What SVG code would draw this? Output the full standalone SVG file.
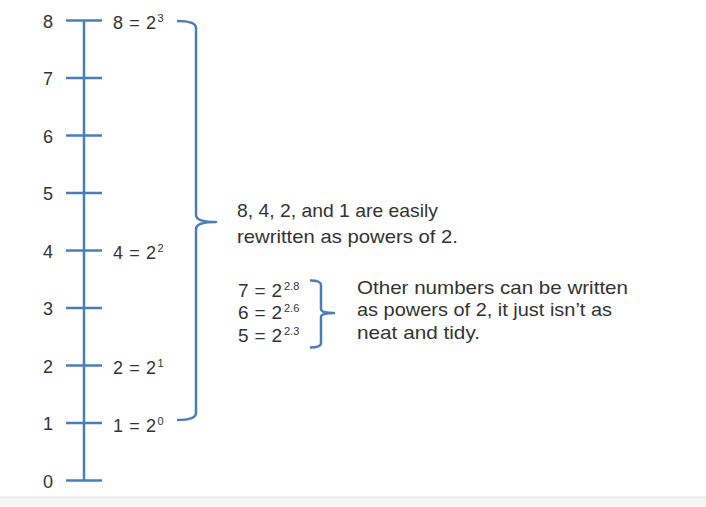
<svg xmlns="http://www.w3.org/2000/svg" width="706" height="507" viewBox="0 0 706 507">
<style>
.ln{stroke:#4a7ebb;stroke-width:2.5;fill:none;stroke-linecap:butt}
.br{stroke:#4a7ebb;stroke-width:2.5;fill:none;stroke-linejoin:round}
text{font-family:"Liberation Sans",Arial,sans-serif;fill:#333333}
.num{font-size:18px;text-anchor:middle}
.lab{font-size:18px}
.sup{font-size:11px}
.big{font-size:19px}
.eq{font-size:19px}
</style>
<rect x="0" y="0" width="706" height="507" fill="#ffffff"/>
<rect x="0" y="497" width="706" height="10" fill="#f6f6f6"/>
<line x1="0" y1="497" x2="706" y2="497" stroke="#e4e4e4" stroke-width="1"/>
<g id="axis">
<line class="ln" x1="84" y1="20.5" x2="84" y2="480.5"/>
<line class="ln" x1="66" y1="20.5" x2="102" y2="20.5"/>
<line class="ln" x1="66" y1="78" x2="102" y2="78"/>
<line class="ln" x1="66" y1="135.5" x2="102" y2="135.5"/>
<line class="ln" x1="66" y1="193" x2="102" y2="193"/>
<line class="ln" x1="66" y1="250.5" x2="102" y2="250.5"/>
<line class="ln" x1="66" y1="308" x2="102" y2="308"/>
<line class="ln" x1="66" y1="365.5" x2="102" y2="365.5"/>
<line class="ln" x1="66" y1="423" x2="102" y2="423"/>
<line class="ln" x1="66" y1="480.5" x2="102" y2="480.5"/>
</g>
<g id="axis-labels">
<text class="num" x="48" y="27.5">8</text>
<text class="num" x="48" y="85">7</text>
<text class="num" x="48" y="142.5">6</text>
<text class="num" x="48" y="200">5</text>
<text class="num" x="48" y="257.5">4</text>
<text class="num" x="48" y="315">3</text>
<text class="num" x="48" y="372.5">2</text>
<text class="num" x="48" y="430">1</text>
<text class="num" x="48" y="487.5">0</text>
</g>
<g id="powers">
<text class="lab" x="113" y="29" textLength="43" lengthAdjust="spacing">8 = 2</text><text class="sup" x="157.5" y="22">3</text>
<text class="lab" x="113" y="258.5" textLength="43" lengthAdjust="spacing">4 = 2</text><text class="sup" x="157.5" y="251.5">2</text>
<text class="lab" x="113" y="374" textLength="43" lengthAdjust="spacing">2 = 2</text><text class="sup" x="157.5" y="367">1</text>
<text class="lab" x="113" y="431.5" textLength="43" lengthAdjust="spacing">1 = 2</text><text class="sup" x="157.5" y="424.5">0</text>
</g>
<g id="connectors">
<path class="br" d="M177,21 Q196,21 196,28 L196,215 Q196,222 216,222 Q196,222 196,229 L196,413 Q196,420 177,420"/>
<path class="br" d="M310,280.5 Q321,280.5 321,285 L321,309 Q321,313 334,313 Q321,313 321,317 L321,343 Q321,347.5 310,347.5"/>
</g>
<g id="note1">
<text class="big" x="237" y="217" textLength="201" lengthAdjust="spacingAndGlyphs">8, 4, 2, and 1 are easily</text>
<text class="big" x="237" y="243" textLength="221" lengthAdjust="spacingAndGlyphs">rewritten as powers of 2.</text>
</g>
<g id="equations">
<text class="eq" x="238" y="296.5" textLength="44" lengthAdjust="spacing">7 = 2</text><text class="sup" x="284" y="289.5">2.8</text>
<text class="eq" x="238" y="319" textLength="44" lengthAdjust="spacing">6 = 2</text><text class="sup" x="284" y="312">2.6</text>
<text class="eq" x="238" y="341.5" textLength="44" lengthAdjust="spacing">5 = 2</text><text class="sup" x="284" y="334.5">2.3</text>
</g>
<g id="note2">
<text class="big" x="357" y="293.5" textLength="271" lengthAdjust="spacingAndGlyphs">Other numbers can be written</text>
<text class="big" x="357" y="316" textLength="255" lengthAdjust="spacingAndGlyphs">as powers of 2, it just isn’t as</text>
<text class="big" x="357" y="338.5" textLength="123" lengthAdjust="spacingAndGlyphs">neat and tidy.</text>
</g>
</svg>
